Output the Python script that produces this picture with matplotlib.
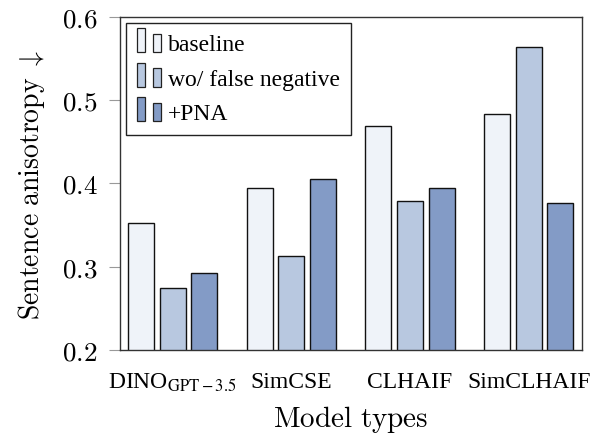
# bar chart of sentence anisotropy per model type
import matplotlib.pyplot as plt
from matplotlib.legend_handler import HandlerBase
from matplotlib.patches import Rectangle
import numpy as np

models = ["DINO$_{\\mathrm{GPT-3.5}}$", "SimCSE", "CLHAIF", "SimCLHAIF"]
series = ["baseline", "wo/ false negative", "+PNA"]
baseline = [0.353, 0.394, 0.469, 0.483]
wo_false_negative = [0.275, 0.313, 0.379, 0.564]
pna = [0.293, 0.405, 0.395, 0.376]
colors = ["#eff3f9", "#b8c8e0", "#839bc6"]
yticks = [0.2, 0.3, 0.4, 0.5, 0.6]

plt.rcParams["font.family"] = "Liberation Serif"
plt.rcParams["mathtext.fontset"] = "stix"


class TwoBarHandler(HandlerBase):
    # pgfplots style legend image: two small bars
    def create_artists(self, legend, orig_handle, xdescent, ydescent,
                       width, height, fontsize, trans):
        fc = orig_handle.get_facecolor()
        w = width * 0.34
        y0 = -ydescent - height * 0.12
        r1 = Rectangle((xdescent, y0), w, height * 1.45,
                       facecolor=fc, edgecolor="#222222", linewidth=0.9, transform=trans)
        r2 = Rectangle((xdescent + width * 0.66, y0), w, height * 1.1,
                       facecolor=fc, edgecolor="#222222", linewidth=0.9, transform=trans)
        return [r1, r2]


fig = plt.figure(figsize=(5.99, 4.39), dpi=100)
ax = fig.add_axes([0.2003, 0.2005, 0.7713, 0.7585])

x = np.arange(len(models))
width = 0.219
step = 0.267
handles = []
for i, (vals, label) in enumerate(zip([baseline, wo_false_negative, pna], series)):
    bars = ax.bar(x + (i - 1) * step, vals, width, bottom=0,
                  color=colors[i], edgecolor="#111111", linewidth=1.0, label=label)
    handles.append(bars.patches[0])

ax.set_xlim(-0.443, 3.449)
ax.set_ylim(0.2, 0.6)

ax.set_xticks(x)
ax.set_xticklabels(models, fontsize=17)
ax.tick_params(axis="x", length=0, pad=15)

ax.set_yticks(yticks)
ax.set_yticklabels(["$%.1f$" % v for v in yticks], fontsize=19.5, math_fontfamily="cm")
ax.tick_params(axis="y", length=8, color="#999999", width=0.8, pad=8)

for s in ax.spines.values():
    s.set_linewidth(1.0)
    s.set_color("#333333")

ax.set_ylabel(r"$\mathrm{Sentence\ anisotropy}\ \downarrow$", fontsize=20,
              math_fontfamily="cm", labelpad=11)
ax.set_xlabel(r"$\mathrm{Model\ types}$", fontsize=21, math_fontfamily="cm", labelpad=7)

leg = ax.legend(handles, series, loc="upper left", fontsize=17,
                handler_map={Rectangle: TwoBarHandler()},
                fancybox=False, framealpha=1, edgecolor="#222222",
                borderaxespad=0.25, handlelength=1.03, handletextpad=0.3,
                labelspacing=0.55, borderpad=0.45)
leg.get_frame().set_linewidth(1.0)

fig.savefig("out.png", dpi=100)
